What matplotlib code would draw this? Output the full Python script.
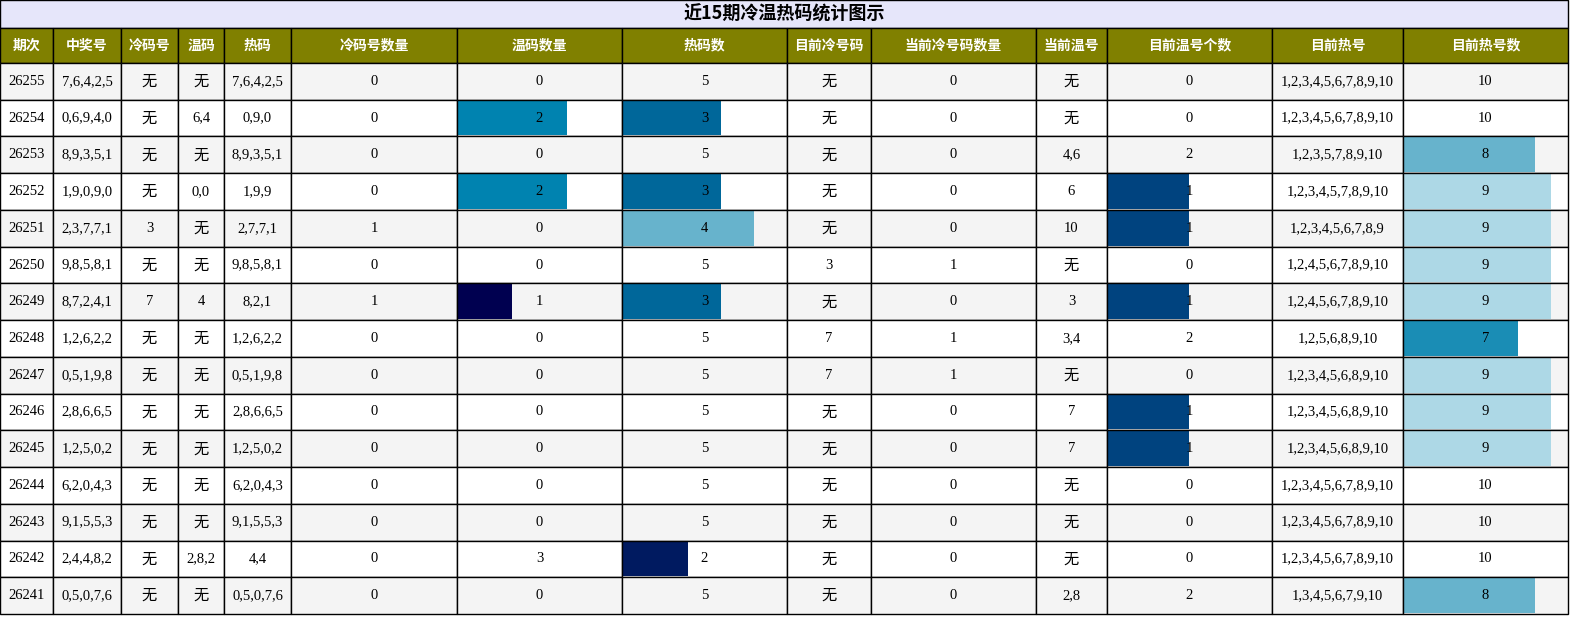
import matplotlib
matplotlib.use("Agg")
import matplotlib.pyplot as plt
from matplotlib.patches import Rectangle

title = "近15期冷温热码统计图示"
headers = ["期次","中奖号","冷码号","温码","热码","冷码号数量","温码数量","热码数","目前冷号码","当前冷号码数量","当前温号","目前温号个数","目前热号","目前热号数"]
periods = ["26255","26254","26253","26252","26251","26250","26249","26248","26247","26246","26245","26244","26243","26242","26241"]
winning = ["7,6,4,2,5","0,6,9,4,0","8,9,3,5,1","1,9,0,9,0","2,3,7,7,1","9,8,5,8,1","8,7,2,4,1","1,2,6,2,2","0,5,1,9,8","2,8,6,6,5","1,2,5,0,2","6,2,0,4,3","9,1,5,5,3","2,4,4,8,2","0,5,0,7,6"]
cold = ["无","无","无","无","3","无","7","无","无","无","无","无","无","无","无"]
warm = ["无","6,4","无","0,0","无","无","4","无","无","无","无","无","无","2,8,2","无"]
hot = ["7,6,4,2,5","0,9,0","8,9,3,5,1","1,9,9","2,7,7,1","9,8,5,8,1","8,2,1","1,2,6,2,2","0,5,1,9,8","2,8,6,6,5","1,2,5,0,2","6,2,0,4,3","9,1,5,5,3","4,4","0,5,0,7,6"]
cold_cnt = [0,0,0,0,1,0,1,0,0,0,0,0,0,0,0]
warm_cnt = [0,2,0,2,0,0,1,0,0,0,0,0,0,3,0]
hot_cnt = [5,3,5,3,4,5,3,5,5,5,5,5,5,2,5]
cur_cold = ["无","无","无","无","无","3","无","7","7","无","无","无","无","无","无"]
cur_cold_cnt = [0,0,0,0,0,1,0,1,1,0,0,0,0,0,0]
cur_warm = ["无","无","4,6","6","10","无","3","3,4","无","7","7","无","无","无","2,8"]
cur_warm_cnt = [0,0,2,1,1,0,1,2,0,1,1,0,0,0,2]
cur_hot = ["1,2,3,4,5,6,7,8,9,10","1,2,3,4,5,6,7,8,9,10","1,2,3,5,7,8,9,10","1,2,3,4,5,7,8,9,10","1,2,3,4,5,6,7,8,9","1,2,4,5,6,7,8,9,10","1,2,4,5,6,7,8,9,10","1,2,5,6,8,9,10","1,2,3,4,5,6,8,9,10","1,2,3,4,5,6,8,9,10","1,2,3,4,5,6,8,9,10","1,2,3,4,5,6,7,8,9,10","1,2,3,4,5,6,7,8,9,10","1,2,3,4,5,6,7,8,9,10","1,3,4,5,6,7,9,10"]
cur_hot_cnt = [10,10,8,9,9,9,9,7,9,9,9,10,10,10,8]

columns = [periods, winning, cold, warm, hot, cold_cnt, warm_cnt, hot_cnt, cur_cold, cur_cold_cnt, cur_warm, cur_warm_cnt, cur_hot, cur_hot_cnt]
xs = [0,53,121,178,224,291,457,622,787,871,1036,1107,1272,1403,1568]
bar_cols = {6: {1:"#000050",2:"#0083b0",3:None}, 7: {2:"#001a60",3:"#00679a",4:"#67b3cc",5:None},
            11: {1:"#00437f",2:None}, 13: {7:"#1a8db5",8:"#67b3cc",9:"#add8e6",10:None}}

W, H = 1578, 619
fig = plt.figure(figsize=(W/100, H/100), dpi=100)
ax = fig.add_axes([0,0,1,1])
ax.set_xlim(0, W); ax.set_ylim(H, 0); ax.axis("off")
fam = ["Liberation Serif", "Noto Sans CJK SC"]
cjk = ["Noto Sans CJK SC"]
L, R = xs[0], xs[-1]
ty0, ty1 = 0, 28
ax.add_patch(Rectangle((L, ty0), R-L, ty1-ty0, fc="#e6e6fa", ec="black", lw=1))
ax.text((L+R)/2, 14, title, ha="center", va="center", fontsize=13, fontweight="bold", family=cjk)
hy0, hy1 = 28, 63
for i, h in enumerate(headers):
    ax.add_patch(Rectangle((xs[i], hy0), xs[i+1]-xs[i], hy1-hy0, fc="#808000", ec="black", lw=1))
    ax.text((xs[i]+xs[i+1])/2, (hy0+hy1)/2, h, ha="center", va="center", fontsize=10, color="white", fontweight="bold", family=cjk)
rh = (614-63)/15
for r in range(15):
    y0 = 63 + r*rh
    bg = "#f4f4f4" if r % 2 == 0 else "white"
    for c in range(14):
        x0, x1 = xs[c], xs[c+1]
        ax.add_patch(Rectangle((x0, y0), x1-x0, rh, fc=bg, ec="none"))
        v = columns[c][r]
        if c in bar_cols:
            cmap = bar_cols[c]
            mx = max(cmap)
            col = cmap.get(v)
            if col and v > 0:
                ax.add_patch(Rectangle((x0, y0+1), (x1-x0)*v/mx, rh-2, fc=col, ec="none"))
        ax.add_patch(Rectangle((x0, y0), x1-x0, rh, fc="none", ec="black", lw=1))
        s = str(v)
        if s == "无":
            ax.text((x0+x1)/2, y0+rh/2, s, ha="center", va="center", fontsize=11, family=cjk)
        else:
            ax.text((x0+x1)/2, y0+rh/2, s, ha="center", va="center", fontsize=10.5, family=fam)
fig.savefig("out.png", dpi=100)
